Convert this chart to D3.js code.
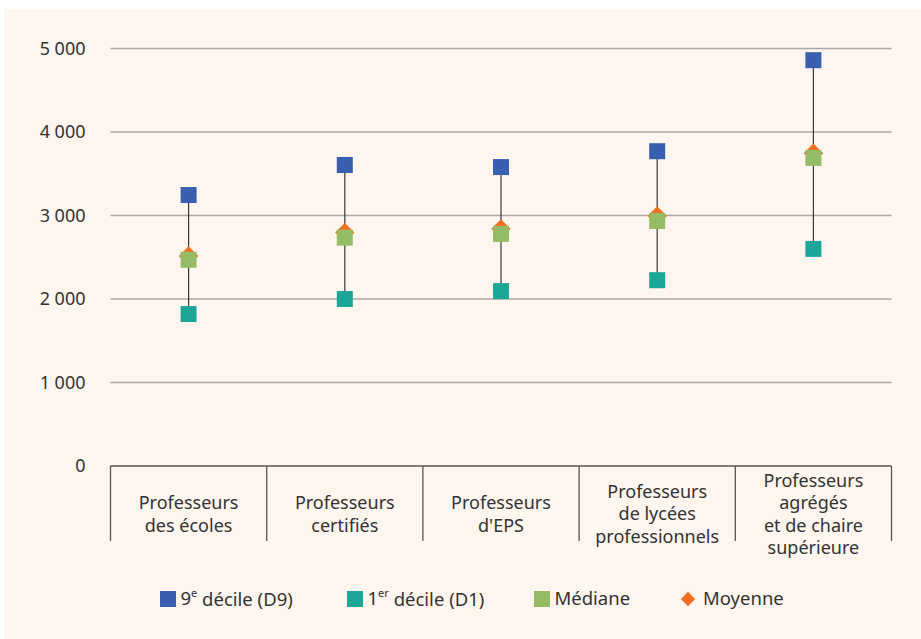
<!DOCTYPE html>
<html>
<head>
<meta charset="utf-8">
<script src="https://cdn.jsdelivr.net/npm/d3@7"></script>
<style>
  html, body { margin: 0; padding: 0; background: #ffffff; }
  svg { display: block; }
  text { font-family: "Noto Sans", sans-serif; fill: #333; }
</style>
</head>
<body>
<div id="chart"></div>
<script>
// categories (lines of each label)
var categories = [
  ["Professeurs", "des écoles"],
  ["Professeurs", "certifiés"],
  ["Professeurs", "d'EPS"],
  ["Professeurs", "de lycées", "professionnels"],
  ["Professeurs", "agrégés", "et de chaire", "supérieure"]
];

// series values
var d9      = [3245, 3605, 3580, 3770, 4860];
var d1      = [1820, 2000, 2095, 2225, 2600];
var mediane = [2470, 2735, 2780, 2935, 3690];
var moyenne = [2515, 2795, 2840, 2995, 3745];

var yTicks = [0, 1000, 2000, 3000, 4000, 5000];

var W = 921, H = 639;
var margin = { top: 48.5, left: 110.5, right: 29.5, bottom: 173 };
var width = W - margin.left - margin.right;
var height = H - margin.top - margin.bottom;

var colors = { d9: "#385fb0", d1: "#1ba698", med: "#93bc65", moy: "#f46e22" };

var svg = d3.select("#chart").append("svg")
  .attr("width", W)
  .attr("height", H);

// cream panel
svg.append("rect")
  .attr("x", 4).attr("y", 9)
  .attr("width", W - 4).attr("height", H - 9)
  .attr("fill", "#fef5ef");

var g = svg.append("g")
  .attr("transform", "translate(" + margin.left + "," + margin.top + ")");

var idx = categories.map(function(d, i) { return i; });

var x = d3.scaleBand()
  .domain(idx)
  .range([0, width]);

var y = d3.scaleLinear()
  .domain([0, 5000])
  .range([height, 0]);

var fmt = function(v) { return d3.format(",")(v).replace(",", " "); };

// gridlines
g.selectAll(".grid")
  .data(yTicks.filter(function(t) { return t > 0; }))
  .enter().append("line")
  .attr("x1", 0).attr("x2", width)
  .attr("y1", function(d) { return y(d); })
  .attr("y2", function(d) { return y(d); })
  .attr("stroke", "#a9a7a5")
  .attr("stroke-width", 1.3);

// y axis labels
var yAxis = d3.axisLeft(y)
  .tickValues(yTicks)
  .tickSize(0)
  .tickPadding(25)
  .tickFormat(fmt);

g.append("g")
  .call(yAxis)
  .call(function(a) { a.select(".domain").remove(); })
  .selectAll("text")
  .style("font-size", "18px")
  .attr("fill", "#333");

// x axis line with category separators
g.append("line")
  .attr("x1", 0).attr("x2", width)
  .attr("y1", height).attr("y2", height)
  .attr("stroke", "#555").attr("stroke-width", 1.3);

var bounds = idx.map(function(i) { return x(i); }).concat([width]);
g.selectAll(".sep")
  .data(bounds)
  .enter().append("line")
  .attr("x1", function(d) { return d; })
  .attr("x2", function(d) { return d; })
  .attr("y1", height)
  .attr("y2", height + 75)
  .attr("stroke", "#555").attr("stroke-width", 1.3);

// category labels
var lineH = 22.5;
g.selectAll(".cat")
  .data(categories)
  .enter().append("text")
  .attr("text-anchor", "middle")
  .style("font-size", "18px")
  .attr("transform", function(d, i) {
    return "translate(" + (x(i) + x.bandwidth() / 2) + "," + (height + 48) + ")";
  })
  .each(function(lines) {
    var t = d3.select(this);
    var y0 = -(lines.length - 1) * lineH / 2;
    lines.forEach(function(l, k) {
      t.append("tspan")
        .attr("x", 0)
        .attr("y", y0 + k * lineH)
        .attr("dy", "0.35em")
        .text(l);
    });
  });

var cx = function(i) { return x(i) + x.bandwidth() / 2; };

// range lines D1 - D9
g.selectAll(".range")
  .data(idx)
  .enter().append("line")
  .attr("x1", cx).attr("x2", cx)
  .attr("y1", function(i) { return y(d1[i]); })
  .attr("y2", function(i) { return y(d9[i]); })
  .attr("stroke", "#3a3838")
  .attr("stroke-width", 1.2);

var sq = 16;
function squares(values, color) {
  g.selectAll(null)
    .data(idx)
    .enter().append("rect")
    .attr("x", function(i) { return cx(i) - sq / 2; })
    .attr("y", function(i) { return y(values[i]) - sq / 2; })
    .attr("width", sq).attr("height", sq)
    .attr("fill", color);
}

squares(d9, colors.d9);
squares(d1, colors.d1);

// mean diamonds
var diamond = d3.symbol().type(d3.symbolDiamond2).size(240);
g.selectAll(".moy")
  .data(idx)
  .enter().append("path")
  .attr("d", diamond)
  .attr("transform", function(i) { return "translate(" + cx(i) + "," + y(moyenne[i]) + ")"; })
  .attr("fill", colors.moy);

squares(mediane, colors.med);

// legend
var legend = [
  { label: "9", sup: "e", rest: " décile (D9)", color: colors.d9, x: 160, shape: "sq" },
  { label: "1", sup: "er", rest: " décile (D1)", color: colors.d1, x: 347, shape: "sq" },
  { label: "Médiane", sup: "", rest: "", color: colors.med, x: 534, shape: "sq" },
  { label: "Moyenne", sup: "", rest: "", color: colors.moy, x: 680.5, shape: "dm" }
];
var ly = 599;
var lg = svg.append("g");
legend.forEach(function(d) {
  if (d.shape === "sq") {
    lg.append("rect")
      .attr("x", d.x).attr("y", ly - 8)
      .attr("width", 16).attr("height", 16)
      .attr("fill", d.color);
  } else {
    lg.append("path")
      .attr("d", d3.symbol().type(d3.symbolDiamond2).size(130))
      .attr("transform", "translate(" + (d.x + 7.5) + "," + ly + ")")
      .attr("fill", d.color);
  }
  var t = lg.append("text")
    .attr("x", d.x + (d.shape === "sq" ? 20.5 : 22.5))
    .attr("y", ly)
    .attr("dy", "0.35em")
    .style("font-size", "18.5px");
  t.append("tspan").text(d.label);
  if (d.sup) {
    t.append("tspan").text(d.sup)
      .style("font-size", "11px")
      .attr("dy", "-0.75em");
    t.append("tspan").text(d.rest)
      .attr("dy", "0.45em");
  }
});
</script>
</body>
</html>
